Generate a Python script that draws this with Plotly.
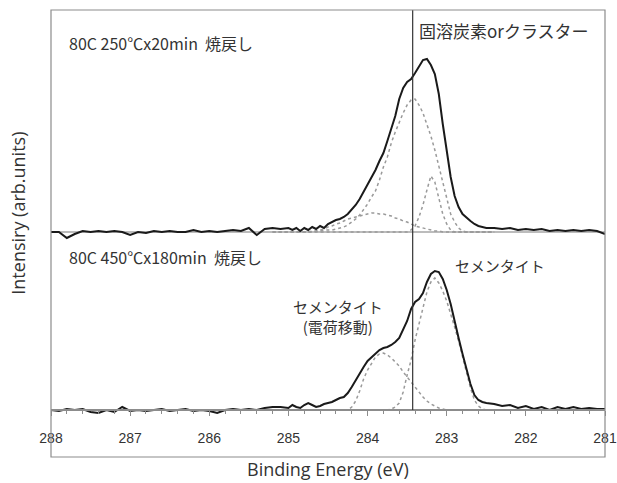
import plotly.graph_objects as go

# ---------------- data ----------------
energy = [288.0, 287.9, 287.8, 287.7, 287.6, 287.5, 287.4, 287.3, 287.2, 287.1,
          287.0, 286.9, 286.8, 286.7, 286.6, 286.5, 286.4, 286.3, 286.2, 286.1,
          286.0, 285.9, 285.8, 285.7, 285.6, 285.5, 285.4, 285.3, 285.2, 285.1,
          285.0,
          284.95, 284.90, 284.85, 284.80, 284.75, 284.70, 284.65, 284.60, 284.55, 284.50,
          284.45, 284.40, 284.35, 284.30, 284.25, 284.20, 284.15, 284.10, 284.05, 284.00,
          283.95, 283.90, 283.85, 283.80, 283.75, 283.70, 283.65, 283.60, 283.55, 283.50,
          283.45, 283.40, 283.35, 283.30, 283.25, 283.20, 283.15, 283.10, 283.05, 283.00,
          282.95, 282.90, 282.85, 282.80, 282.75, 282.70, 282.65, 282.60, 282.55, 282.50,
          282.4, 282.3, 282.2, 282.1, 282.0, 281.9, 281.8, 281.7, 281.6, 281.5,
          281.4, 281.3, 281.2, 281.1, 281.0]

# 80C 250°C x20min (measured)
upper_total = [0, 0, -6, -2, 1, 0, 1, 0, 1, 0,
               -3, 0, -1, 1, 0, 1, 0, 0, 2, 0,
               1, 0, 1, 2, 1, 4, -3, 3, 4, 3,
               4,
               2, 4, 1, 4, 2, 5, 3, 6, 4, 8,
               10, 12, 13, 15, 18, 22, 27, 33, 40, 47,
               54, 62, 71, 79, 91, 103, 116, 133, 144, 150,
               153, 159, 165, 172, 173, 167, 158, 138, 108, 82,
               55, 36, 25, 18, 14, 11, 8, 6, 5, 4,
               4, 3, 4, 2, 3, 2, 3, 1, 2, 1,
               2, 1, 2, 1, -2]

# 80C 450°C x180min (measured)
lower_total = [0, -1, 1, 0, 1, -2, -3, 0, -2, 3,
               -1, 0, -1, 0, 1, -1, 0, 1, -1, 0,
               -1, -3, 0, 1, 0, 1, 0, 2, 3, 3,
               2,
               5, 3, 2, 5, 7, 5, 3, 4, 6, 7,
               8, 10, 12, 13, 17, 23, 30, 37, 43, 49,
               53, 57, 60, 62, 63, 65, 68, 72, 81, 89,
               101, 108, 111, 117, 128, 136, 139, 138, 131, 120,
               106, 88, 72, 56, 40, 26, 15, 10, 8, 7,
               6, 4, 5, 2, 4, 1, 3, 0, 3, 1,
               3, 1, 2, 1, 1]

comp_energy = [285.2, 285.1, 285.0,
               284.95, 284.90, 284.85, 284.80, 284.75, 284.70, 284.65, 284.60, 284.55, 284.50,
               284.45, 284.40, 284.35, 284.30, 284.25, 284.20, 284.15, 284.10, 284.05, 284.00,
               283.95, 283.90, 283.85, 283.80, 283.75, 283.70, 283.65, 283.60, 283.55, 283.50,
               283.45, 283.40, 283.35, 283.30, 283.25, 283.20, 283.15, 283.10, 283.05, 283.00,
               282.95, 282.90, 282.85, 282.80, 282.75, 282.70, 282.65, 282.60, 282.55, 282.50,
               282.4]

upper_fit_main = [0, 0, 0,
                  0, 0, 0, 0, 0, 1, 1, 1, 2, 2,
                  2, 3, 4, 5, 7, 10, 13, 17, 22, 28,
                  35, 41, 52, 65, 75, 89, 100, 110, 119, 127,
                  132, 133, 127, 119, 108, 96, 82, 66, 48, 31,
                  18, 10, 4, 1, 0, 0, 0, 0, 0, 0,
                  0]
upper_fit_narrow = [0, 0, 0,
                    0, 0, 0, 0, 0, 0, 0, 0, 0, 0,
                    0, 0, 0, 0, 0, 0, 0, 0, 0, 0,
                    0, 0, 0, 0, 0, 0, 0, 0, 0, 0,
                    2, 6, 15, 27, 42, 56, 50, 33, 18, 8,
                    2, 0, 0, 0, 0, 0, 0, 0, 0, 0,
                    0]
upper_fit_wide = [0, 0, 0,
                  0, 0, 0, 0, 0, 0, 1, 2, 3, 5,
                  6, 8, 9, 11, 13, 14, 15, 16, 17, 18,
                  19, 19, 18, 18, 17, 16, 14, 13, 11, 10,
                  8, 6, 5, 4, 3, 2, 1, 1, 0, 0,
                  0, 0, 0, 0, 0, 0, 0, 0, 0, 0,
                  0]
lower_fit_main = [0, 0, 0,
                  0, 0, 0, 0, 0, 0, 0, 0, 0, 0,
                  0, 0, 0, 0, 0, 0, 0, 0, 0, 0,
                  0, 0, 0, 0, 0, 1, 3, 7, 18, 35,
                  50, 70, 87, 103, 118, 128, 132, 127, 119, 109,
                  97, 83, 69, 54, 38, 22, 10, 4, 1, 0,
                  0]
lower_fit_wide = [0, 0, 0,
                  0, 0, 0, 0, 0, 0, 0, 0, 0, 0,
                  0, 0, 0, 0, 0, 3, 9, 19, 31, 40,
                  47, 53, 56, 57, 55, 52, 48, 44, 38, 33,
                  28, 23, 17, 13, 9, 6, 4, 2, 1, 0,
                  0, 0, 0, 0, 0, 0, 0, 0, 0, 0,
                  0]

upper_offset = 178          # vertical stacking offset of the upper spectrum
divider_energy = 283.43     # vertical reference line
x_ticks = [288, 287, 286, 285, 284, 283, 282, 281]

# ---------------- figure ----------------
fig = go.Figure()

fit_style = dict(color="#9a9a9a", width=1.5, dash="dot")
for y in (upper_fit_wide, upper_fit_main, upper_fit_narrow):
    fig.add_trace(go.Scatter(x=comp_energy, y=[v + upper_offset for v in y],
                             mode="lines", line=fit_style, hoverinfo="skip"))
for y in (lower_fit_wide, lower_fit_main):
    fig.add_trace(go.Scatter(x=comp_energy, y=y, mode="lines",
                             line=fit_style, hoverinfo="skip"))

fig.add_trace(go.Scatter(x=energy, y=[v + upper_offset for v in upper_total],
                         mode="lines", line=dict(color="#1a1a1a", width=2)))
fig.add_trace(go.Scatter(x=energy, y=lower_total, mode="lines",
                         line=dict(color="#1a1a1a", width=2)))

y_lo, y_hi = -47, 400

# upper baseline
fig.add_shape(type="line", xref="paper", yref="y", x0=0, x1=1,
              y0=upper_offset, y1=upper_offset,
              line=dict(color="#a6a6a6", width=1.5), layer="below")
# divider
fig.add_shape(type="line", xref="x", yref="y", x0=divider_energy, x1=divider_energy,
              y0=0, y1=y_hi, line=dict(color="#333333", width=1.2))
# frame
fig.add_shape(type="rect", xref="paper", yref="paper", x0=0, x1=1, y0=0, y1=1,
              line=dict(color="#8c8c8c", width=1.2))

jp = "Noto Sans CJK JP"
txt = "#333333"
ann = [
    dict(x=287.80, y=367, text="80C 250℃x20min\u00a0\u00a0焼戻し", xanchor="left", size=16),
    dict(x=283.375, y=380, text="固溶炭素orクラスター", xanchor="left", size=17),
    dict(x=287.80, y=153, text="80C 450℃x180min\u00a0\u00a0焼戻し", xanchor="left", size=16),
    dict(x=282.92, y=145, text="セメンタイト", xanchor="left", size=15),
    dict(x=284.37, y=94, text="セメンタイト<br>(電荷移動)", xanchor="center", size=15),
]
for a in ann:
    fig.add_annotation(x=a["x"], y=a["y"], xref="x", yref="y", text=a["text"],
                       showarrow=False, xanchor=a["xanchor"], yanchor="middle",
                       font=dict(family=jp, size=a["size"], color=txt))

fig.add_annotation(x=0.5, y=-0.027, xref="paper", yref="paper",
                   text="Binding Energy (eV)", showarrow=False,
                   xanchor="center", yanchor="middle",
                   font=dict(family="Open Sans", size=18, color=txt))
fig.add_annotation(x=-0.06, y=0.546, xref="paper", yref="paper",
                   text="Intensiry (arb.units)", showarrow=False, textangle=-90,
                   xanchor="center", yanchor="middle",
                   font=dict(family="Open Sans", size=18, color=txt))

fig.update_layout(
    width=617, height=483,
    margin=dict(l=51, r=12, t=10, b=26, autoexpand=False),
    paper_bgcolor="white", plot_bgcolor="white",
    showlegend=False,
    xaxis=dict(range=[288, 281], tickvals=x_ticks, ticktext=[str(t) for t in x_ticks],
               anchor="free", position=(0 - y_lo) / (y_hi - y_lo),
               automargin=False,
               showline=True, linecolor="#8c8c8c", linewidth=1.5,
               ticks="outside", ticklen=5, tickcolor="#8c8c8c",
               minor=dict(dtick=0.2, tick0=281, ticks="outside", ticklen=3,
                          tickcolor="#8c8c8c"),
               ticklabelstandoff=10,
               showgrid=False, zeroline=False,
               tickfont=dict(family="Liberation Sans", size=14, color=txt)),
    yaxis=dict(range=[y_lo, y_hi], visible=False, showgrid=False, zeroline=False,
               automargin=False),
)

fig.write_html("out.html", config={"displayModeBar": False},
               post_script="document.body.style.margin='0';")
